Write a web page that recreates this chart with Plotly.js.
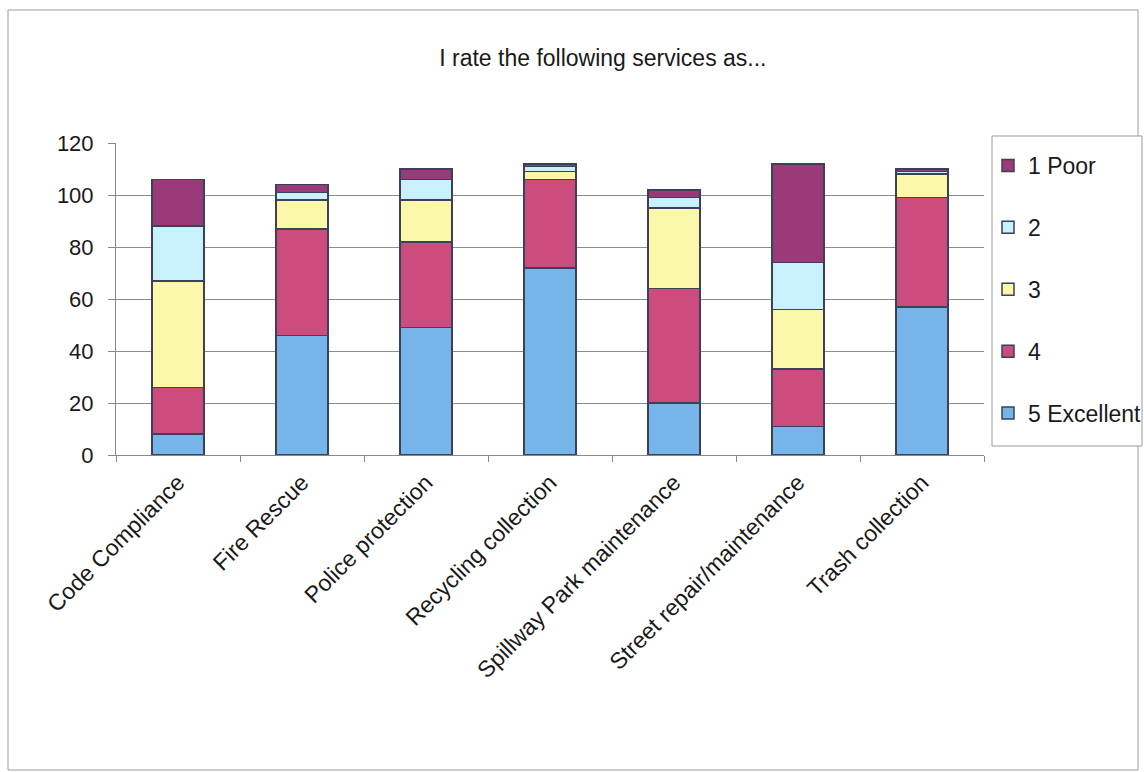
<!DOCTYPE html>
<html>
<head>
<meta charset="utf-8">
<script src="https://cdn.plot.ly/plotly-3.0.1.min.js"></script>
<style>html,body{margin:0;padding:0;background:#fff;}#chart{width:1144px;height:772px;}</style>
</head>
<body>
<div id="chart"></div>
<script>
const categories = ["Code Compliance", "Fire Rescue", "Police protection", "Recycling collection", "Spillway Park maintenance", "Street repair/maintenance", "Trash collection"];
const seriesNames = ["5 Excellent", "4", "3", "2", "1 Poor"];
const excellent5 = [8, 46, 49, 72, 20, 11, 57];
const rating4 = [18, 41, 33, 34, 44, 22, 42];
const rating3 = [41, 11, 16, 3, 31, 23, 9];
const rating2 = [21, 3, 8, 2, 4, 18, 1];
const poor1 = [18, 3, 4, 1, 3, 38, 1];
const yTicks = [0, 20, 40, 60, 80, 100, 120];
const titleText = "I rate the following services as...";

const seriesValues = [excellent5, rating4, rating3, rating2, poor1];
const colors = ["#76b5ea", "#cc4d7d", "#fbf8aa", "#c8f1fb", "#9a3a78"];

const font = "Liberation Sans, Arial, sans-serif";
const traces = seriesValues.map((vals, i) => ({
  type: "bar",
  name: seriesNames[i],
  x: categories,
  y: vals,
  legendgroup: "g" + i,
  legendrank: seriesValues.length - i,
  marker: {color: colors[i], line: {color: "#3c4058", width: 1.5}},
  hoverinfo: "x+y+name"
}));

// plot area in pixels: x 116..984, y 143..455
const W = 1144, H = 772;
const L = 116, R = 984, T = 143, B = 455;
const px = x => (x - L) / (R - L);
const py = y => (B - y) / (B - T);

const layout = {
  width: W,
  height: H,
  margin: {l: L, r: W - R, t: T, b: H - B, pad: 0},
  paper_bgcolor: "#ffffff",
  plot_bgcolor: "#ffffff",
  barmode: "stack",
  bargap: 0.58,
  font: {family: font, color: "#1a1a1a", size: 21},
  title: {
    text: titleText,
    font: {family: font, size: 23, color: "#1a1a1a"},
    xref: "container", x: 0.527, xanchor: "center",
    yref: "container", y: 1 - 58 / H, yanchor: "middle"
  },
  xaxis: {
    type: "category",
    tickangle: -45,
    tickfont: {family: font, size: 23, color: "#1a1a1a"},
    ticks: "outside",
    tickson: "boundaries",
    ticklen: 6,
    tickcolor: "#888",
    ticklabelstandoff: 4,
    showline: true,
    linecolor: "#888",
    linewidth: 1,
    showgrid: false,
    automargin: false
  },
  yaxis: {
    range: [0, 120],
    tickvals: yTicks,
    ticktext: yTicks.map(String),
    tickfont: {family: font, size: 22, color: "#1a1a1a"},
    ticks: "outside",
    ticklen: 7,
    tickcolor: "#888",
    ticklabelstandoff: 10,
    showline: true,
    linecolor: "#888",
    linewidth: 1,
    showgrid: true,
    gridcolor: "#8c8c8c",
    gridwidth: 1,
    zeroline: false,
    automargin: false
  },
  legend: {
    xref: "container", x: 988 / W, xanchor: "left",
    yref: "container", y: 1 - 144 / H, yanchor: "top",
    traceorder: "grouped",
    tracegroupgap: 29,
    bgcolor: "rgba(0,0,0,0)",
    borderwidth: 0,
    font: {family: font, size: 23, color: "#1a1a1a"},
    itemwidth: 30
  },
  shapes: [
    {type: "rect", xref: "paper", yref: "paper",
     x0: px(8), x1: px(1138), y0: py(770), y1: py(10),
     line: {color: "#9a9a9a", width: 1}, fillcolor: "rgba(0,0,0,0)", layer: "below"},
    {type: "rect", xref: "paper", yref: "paper",
     x0: px(992), x1: px(1142), y0: py(446), y1: py(136),
     line: {color: "#9a9a9a", width: 1}, fillcolor: "#ffffff", layer: "below"}
  ],
  showlegend: true
};

Plotly.newPlot("chart", traces, layout, {displayModeBar: false, responsive: false});
</script>
</body>
</html>
